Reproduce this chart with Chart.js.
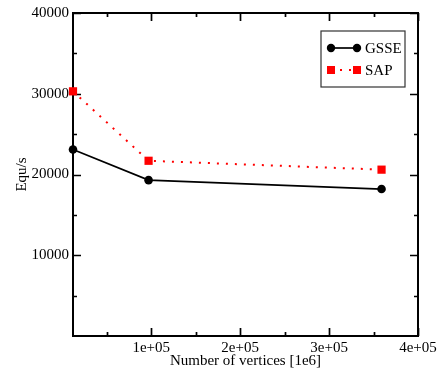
<!DOCTYPE html>
<html>
<head>
<meta charset="utf-8">
<script src="https://cdn.jsdelivr.net/npm/chart.js@4/dist/chart.umd.min.js"></script>
<style>
html, body { margin: 0; padding: 0; background: #fff; }
#wrap { width: 438px; height: 372px; }
</style>
</head>
<body>
<div id="wrap"><canvas id="chart" width="438" height="372"></canvas></div>
<script>
// Data
const vertices = [12000, 97000, 359000];
const gsseValues = [23100, 19300, 18200];
const sapValues = [30300, 21700, 20600];
const xTickValues = [100000, 200000, 300000, 400000];
const xTickLabels = ['1e+05', '2e+05', '3e+05', '4e+05'];
const xMinorValues = [50000, 150000, 250000, 350000];
const yTickValues = [10000, 20000, 30000, 40000];
const yMinorValues = [5000, 15000, 25000, 35000];
const seriesNames = ['GSSE', 'SAP'];

const FONT = { family: '"Liberation Serif", "DejaVu Serif", serif', size: 15 };

// Frame with inward ticks on all four sides
const framePlugin = {
    id: 'frame',
    beforeDatasetsDraw(chart) {
        const { ctx, chartArea: a, scales } = chart;
        ctx.save();
        ctx.strokeStyle = '#000';
        ctx.lineWidth = 1.7;
        ctx.beginPath();
        const tick = (vals, len) => {
            vals.forEach(v => {
                const x = Math.round(scales.x.getPixelForValue(v)) + 0.5;
                ctx.moveTo(x, a.bottom); ctx.lineTo(x, a.bottom - len);
                ctx.moveTo(x, a.top); ctx.lineTo(x, a.top + len);
            });
        };
        const tickY = (vals, len) => {
            vals.forEach(v => {
                const y = Math.round(scales.y.getPixelForValue(v)) + 0.5;
                ctx.moveTo(a.left, y); ctx.lineTo(a.left + len, y);
                ctx.moveTo(a.right, y); ctx.lineTo(a.right - len, y);
            });
        };
        tick(xTickValues, 8);
        tick(xMinorValues, 4);
        tickY(yTickValues, 8);
        tickY(yMinorValues, 4);
        ctx.stroke();
        ctx.lineWidth = 2;
        ctx.strokeRect(a.left, a.top, a.right - a.left, a.bottom - a.top);
        ctx.restore();
    }
};

// Boxed legend with two markers per entry
const legendPlugin = {
    id: 'boxLegend',
    afterDraw(chart) {
        const { ctx, chartArea: a } = chart;
        const bx = a.right - 97, by = a.top + 18, bw = 84, bh = 56;
        ctx.save();
        ctx.fillStyle = '#fff';
        ctx.fillRect(bx, by, bw, bh);
        ctx.strokeStyle = '#333';
        ctx.lineWidth = 1.2;
        ctx.strokeRect(bx, by, bw, bh);
        chart.data.datasets.forEach((ds, i) => {
            const y = by + 17 + i * 22;
            const x1 = bx + 10, x2 = bx + 36;
            ctx.strokeStyle = ds.borderColor;
            ctx.lineWidth = ds.borderWidth;
            ctx.setLineDash(ds.borderDash || []);
            ctx.beginPath();
            ctx.moveTo(x1, y); ctx.lineTo(x2, y);
            ctx.stroke();
            ctx.setLineDash([]);
            ctx.fillStyle = ds.pointBackgroundColor;
            [x1, x2].forEach(x => {
                if (ds.pointStyle === 'rect') {
                    ctx.fillRect(x - 4, y - 4, 8, 8);
                } else {
                    ctx.beginPath();
                    ctx.arc(x, y, 4.2, 0, Math.PI * 2);
                    ctx.fill();
                }
            });
            ctx.fillStyle = '#000';
            ctx.font = `${FONT.size}px ${FONT.family}`;
            ctx.textBaseline = 'middle';
            ctx.fillText(ds.label, x2 + 8, y + 1);
        });
        ctx.restore();
    }
};

const ctx = document.getElementById('chart').getContext('2d');
new Chart(ctx, {
    type: 'scatter',
    data: {
        datasets: [{
            label: seriesNames[0],
            data: vertices.map((v, i) => ({ x: v, y: gsseValues[i] })),
            showLine: true,
            borderColor: '#000',
            borderWidth: 1.7,
            pointStyle: 'circle',
            pointRadius: 4.3,
            pointBackgroundColor: '#000',
            pointBorderWidth: 0,
            clip: false
        }, {
            label: seriesNames[1],
            data: vertices.map((v, i) => ({ x: v, y: sapValues[i] })),
            showLine: true,
            borderColor: '#ff0000',
            borderWidth: 2,
            borderDash: [2, 7],
            pointStyle: 'rect',
            pointRadius: 5.8,
            pointBackgroundColor: '#ff0000',
            pointBorderWidth: 0,
            clip: false
        }]
    },
    options: {
        responsive: false,
        animation: false,
        layout: { padding: { top: 12, right: 20, left: 0, bottom: 0 } },
        plugins: {
            legend: { display: false },
            tooltip: { enabled: false }
        },
        scales: {
            x: {
                type: 'linear',
                min: 12000,
                max: 400000,
                grid: { display: false, drawTicks: false },
                border: { display: false },
                afterBuildTicks: s => { s.ticks = xTickValues.map(v => ({ value: v })); },
                afterFit: s => { s.height = 36; s.paddingLeft = 0; s.paddingRight = 0; },
                ticks: {
                    color: '#000',
                    font: FONT,
                    padding: 3,
                    maxRotation: 0,
                    autoSkip: false,
                    callback: v => xTickLabels[xTickValues.indexOf(v)]
                },
                title: {
                    display: true,
                    text: 'Number of vertices [1e6]',
                    color: '#000',
                    font: FONT,
                    padding: { top: 0, bottom: 2 }
                }
            },
            y: {
                type: 'linear',
                min: 0,
                max: 40000,
                grid: { display: false, drawTicks: false },
                border: { display: false },
                afterBuildTicks: s => { s.ticks = yTickValues.map(v => ({ value: v })); },
                afterFit: s => { s.width = 73; },
                ticks: {
                    color: '#000',
                    font: FONT,
                    padding: 4,
                    autoSkip: false,
                    callback: v => String(v)
                },
                title: {
                    display: true,
                    text: 'Equ/s',
                    color: '#000',
                    font: FONT,
                    padding: { top: 13, bottom: 0 }
                }
            }
        }
    },
    plugins: [framePlugin, legendPlugin]
});
</script>
</body>
</html>
